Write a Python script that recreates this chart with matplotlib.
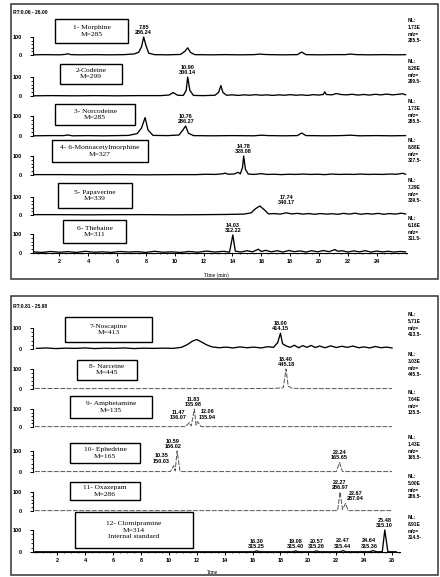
import matplotlib.pyplot as plt
from matplotlib.patches import Rectangle
from matplotlib.ticker import FixedLocator, MultipleLocator

plt.rcParams['font.family'] = ['Liberation Sans', 'DejaVu Sans']

W, H = 440, 577

# ---------------- data ----------------
# top panel: RT 0.06 - 26.00
t1 = [0.2, 1.0, 2.0, 2.4, 2.6, 2.8, 3.5, 4.5, 5.5, 6.5, 7.2, 7.5, 7.7, 7.85, 8.0, 8.2, 8.6, 9.5, 10.4, 10.7,
      10.9, 11.1, 11.4, 12.5, 13.5, 14.5, 15.5, 15.9, 16.2, 16.6, 17.5, 18.5, 18.8, 19.1, 20.0, 21.0, 21.8,
      22.2, 22.6, 23.5, 24.5, 25.5, 26.0]
y1 = [1, 2, 1, 3, 7, 2, 1, 2, 1, 2, 6, 15, 45, 100, 55, 10, 2, 1, 3, 20,
      40, 14, 2, 1, 2, 1, 2, 5, 3, 2, 1, 2, 16, 2, 1, 2, 2,
      5, 2, 1, 2, 1, 2]

t2 = [0.2, 1.5, 3, 4.5, 6, 7.5, 9.0, 9.6, 9.9, 10.2, 10.6, 10.8, 10.9, 11.05, 11.3, 12.0, 12.8, 13.05, 13.2,
      13.35, 13.6, 14.0, 14.4, 14.8, 15.2, 15.6, 16.0, 16.4, 16.8, 17.2, 17.6, 18.0, 18.4, 18.8, 19.2, 19.6,
      20.0, 20.3, 20.4, 20.5, 20.9, 21.2, 21.5, 21.9, 22.3, 22.7, 23.1, 23.5, 23.9, 24.3, 24.7, 25.1, 25.5,
      25.8, 26.0]
y2 = [1, 2, 1, 2, 1, 2, 2, 5, 18, 4, 3, 30, 100, 30, 3, 2, 4, 20, 55,
      18, 4, 6, 3, 6, 4, 7, 4, 6, 3, 6, 4, 7, 4, 6, 3, 7,
      5, 8, 22, 8, 6, 13, 8, 6, 9, 5, 8, 5, 9, 6, 10, 6, 9,
      12, 6]

t3 = [0.2, 1.5, 2.3, 2.6, 2.9, 4, 5, 6, 6.8, 7.4, 7.7, 7.95, 8.15, 8.5, 9.5, 10.3, 10.55, 10.76, 10.95, 11.3,
      12.5, 14, 15.5, 16.0, 16.5, 17.5, 18.5, 18.8, 19.1, 20.5, 21.5, 22.2, 22.8, 24, 25, 26]
y3 = [1, 2, 2, 5, 1, 2, 1, 2, 3, 12, 40, 92, 30, 3, 2, 5, 28, 50, 14, 2,
      1, 2, 1, 4, 2, 1, 2, 15, 2, 1, 2, 4, 1, 2, 1, 2]

t4 = [0.2, 2, 4, 6, 8, 10, 11.5, 12.2, 12.8, 13.3, 13.5, 13.7, 14.1, 14.4, 14.55, 14.7, 14.78, 14.9, 15.1,
      15.5, 16.0, 16.4, 16.9, 17.4, 17.9, 18.4, 18.9, 19.4, 19.9, 20.4, 20.9, 21.4, 21.9, 22.4, 22.9, 23.4,
      23.9, 24.4, 24.9, 25.4, 25.8, 26.0]
y4 = [2, 2, 1, 2, 1, 2, 2, 4, 3, 6, 10, 4, 5, 14, 6, 40, 100, 30, 5,
      3, 7, 3, 4, 2, 4, 3, 5, 3, 4, 2, 5, 3, 4, 3, 5, 3,
      4, 3, 5, 4, 9, 4]

t5 = [0.2, 2, 4, 6, 8, 10, 12, 13.5, 14.2, 14.8, 15.3, 15.6, 15.9, 16.2, 16.5, 16.9, 17.3, 17.74, 18.1, 18.5,
      18.9, 19.3, 19.7, 20.1, 20.5, 20.9, 21.3, 21.7, 22.1, 22.5, 22.9, 23.3, 23.7, 24.1, 24.5, 24.9, 25.3,
      25.7, 26.0]
y5 = [2, 2, 1, 2, 2, 1, 2, 3, 4, 5, 12, 35, 50, 30, 6, 8, 5, 12, 6, 9,
      5, 8, 4, 8, 5, 7, 4, 9, 5, 10, 4, 8, 5, 9, 4, 8, 5,
      10, 6]

t6 = [0.2, 0.8, 1.4, 2.0, 2.6, 3.2, 3.8, 4.4, 5.0, 5.6, 6.2, 6.8, 7.4, 8.0, 8.6, 9.2, 9.8, 10.4, 11.0, 11.6,
      12.2, 12.8, 13.4, 13.8, 14.03, 14.2, 14.6, 15.0, 15.4, 15.8, 16.0, 16.3, 16.7, 17.1, 17.5, 17.9, 18.3,
      18.7, 19.1, 19.5, 19.9, 20.3, 20.7, 21.1, 21.3, 21.6, 22.0, 22.4, 22.8, 23.2, 23.6, 24.0, 24.4, 24.8,
      25.2, 25.6, 26.0]
y6 = [6, 3, 8, 4, 7, 3, 9, 4, 6, 3, 8, 5, 7, 3, 9, 4, 6, 3, 8, 4,
      10, 5, 9, 4, 95, 10, 5, 12, 6, 20, 8, 14, 6, 12, 5, 13, 7,
      11, 5, 12, 6, 13, 7, 18, 9, 12, 5, 11, 6, 12, 5, 10, 6, 9,
      5, 8, 6]

# bottom panel: RT 0.81 - 25.98
t7 = [0.5, 1.2, 1.9, 2.6, 3.3, 4.0, 4.7, 5.4, 6.1, 6.8, 7.5, 8.2, 8.9, 9.6, 10.3, 10.9, 11.3, 11.7, 12.0, 12.3,
      12.7, 13.1, 13.6, 14.1, 14.6, 15.1, 15.6, 16.1, 16.6, 17.1, 17.5, 17.8, 18.0, 18.15, 18.4, 18.7, 19.0,
      19.3, 19.6, 19.9, 20.2, 20.5, 20.8, 21.2, 21.6, 22.0, 22.4, 22.8, 23.2, 23.6, 24.0, 24.4, 24.8, 25.2,
      25.6, 26.0]
y7 = [3, 5, 2, 4, 3, 5, 2, 4, 3, 5, 2, 4, 3, 4, 3, 8, 20, 38, 45, 35,
      20, 10, 6, 9, 5, 10, 6, 9, 5, 11, 8, 30, 75, 25, 15, 8, 18,
      6, 16, 8, 17, 7, 14, 6, 15, 7, 13, 8, 14, 6, 10, 5, 12, 6,
      9, 5]

t8 = [0.4, 3, 6, 9, 12, 15, 17.5, 18.2, 18.4, 18.55, 18.8, 19.5, 22, 24, 26]
y8 = [3, 2, 2, 2, 2, 2, 3, 6, 100, 15, 4, 2, 2, 2, 2]

t9 = [0.4, 4, 8, 11.2, 11.47, 11.6, 11.83, 11.95, 12.06, 12.3, 16, 20, 24, 26]
y9 = [2, 2, 2, 2, 25, 5, 100, 10, 30, 2, 2, 2, 2, 2]

t10 = [0.4, 4, 8, 10.1, 10.35, 10.45, 10.59, 10.8, 14, 18, 22.0, 22.24, 22.45, 24, 26]
y10 = [2, 2, 2, 2, 30, 5, 100, 2, 2, 2, 2, 45, 2, 2, 2]

t11 = [0.4, 4, 8, 12, 16, 20, 22.1, 22.27, 22.45, 22.67, 22.85, 24, 26]
y11 = [2, 2, 2, 2, 2, 2, 2, 100, 8, 40, 2, 2, 2]

t12 = [0.4, 4, 8, 12, 16.1, 16.3, 16.5, 18.9, 19.08, 19.3, 20.4, 20.57, 20.8, 22.3, 22.47, 22.7, 24.4, 24.64,
       24.9, 25.3, 25.48, 25.7, 26.3]
y12 = [1, 1, 1, 1, 1, 5, 1, 1, 5, 1, 1, 5, 1, 1, 6, 1, 1, 6,
       1, 1, 100, 1, 1]

times = [t1, t2, t3, t4, t5, t6, t7, t8, t9, t10, t11, t12]
intens = [y1, y2, y3, y4, y5, y6, y7, y8, y9, y10, y11, y12]

names = ["1- Morphine", "2-Codeine", "3- Norcodeine", "4- 6-Monoacetylmorphine", "5- Papaverine",
         "6- Thebaine", "7-Noscapine", "8- Narceine", "9- Amphetamine", "10- Ephedrine", "11- Oxazepam",
         "12- Clomipramine"]
masses = [285, 299, 285, 327, 339, 311, 413, 445, 135, 165, 286, 314]
nl_vals = ["1.73E", "8.26E", "1.73E", "8.88E", "7.29E", "6.16E",
           "5.71E", "3.03E", "7.64E", "1.43E", "5.00E", "8.91E"]
mz_win = ["285.5-", "299.5-", "285.5-", "327.5-", "339.5-", "311.5-",
          "413.5-", "445.5-", "135.5-", "165.5-", "286.5-", "314.5-"]

# peak labels: (rt, m/z, apex height)
peaks = [
    [("7.85", "286.24", 100)],
    [("10.90", "300.14", 100)],
    [("10.76", "286.27", 50)],
    [("14.78", "328.08", 100)],
    [("17.74", "340.17", 45)],
    [("14.03", "312.22", 95)],
    [("18.00", "414.15", 75)],
    [("18.40", "445.18", 100)],
    [("11.83", "135.98", 100), ("11.47", "136.07", 25), ("12.06", "135.94", 30)],
    [("10.59", "166.02", 100), ("10.35", "150.03", 30), ("22.24", "165.65", 45)],
    [("22.27", "286.97", 100), ("22.67", "287.04", 40)],
    [("16.30", "315.25", 5), ("19.08", "315.40", 5), ("20.57", "315.26", 5),
     ("22.47", "315.44", 6), ("24.64", "315.36", 6), ("25.48", "315.10", 100)],
]

# ---------------- layout (pixels of the 440x577 picture) ----------------
baselines = [55, 96, 136, 175, 215, 253, 349, 389, 427, 472, 511, 552]
levels100 = [37, 77, 116, 156, 197, 234, 328, 369, 409, 451, 492, 530]
boxes = [(55, 19, 128, 43), (60, 64, 122, 84), (55, 104, 135, 125), (52, 140, 148, 162),
         (58, 183, 132, 208), (63, 220, 126, 243), (65, 317, 152, 342), (77, 360, 137, 380),
         (70, 396, 152, 418), (70, 443, 140, 463), (70, 482, 140, 500), (75, 512, 193, 548)]
label_dx = [[0], [0], [0], [0], [0], [0], [0], [0],
            [-1, -8, 7], [-3, -9, 0], [0, 7], [0, 0, 0, 0, -3, 0]]
faint_rows = {7, 8, 9, 10}


def fx(x):
    return x / W


def fy(y):
    return 1 - y / H


fig = plt.figure(figsize=(W / 100, H / 100), dpi=100)

# panel frames
for (x0, y0, x1, y1) in [(11, 4, 438, 279), (11, 296, 438, 575)]:
    fig.patches.append(Rectangle((fx(x0), fy(y1)), (x1 - x0) / W, (y1 - y0) / H,
                                 transform=fig.transFigure, fill=False, lw=1.1, ec='#333333'))

fig.text(fx(13), fy(12), "RT:0.06 - 26.00", fontsize=3.6, fontweight='bold', va='center')
fig.text(fx(13), fy(306), "RT:0.81 - 25.98", fontsize=3.6, fontweight='bold', va='center')

for i in range(12):
    top_panel = i < 6
    left, right = 33, (407 if top_panel else 400)
    xlim = (0.18, 26.1) if top_panel else (0.26, 26.57)
    b, t = baselines[i], levels100[i]
    s = (b - t) / 100
    ax = fig.add_axes([fx(left), fy(b + 25 * s), (right - left) / W, 200 * s / H])
    ax.patch.set_alpha(0)

    if i in faint_rows:
        ax.plot(times[i], intens[i], color='#555555', lw=0.7, ls=(0, (5, 1.5)))
    else:
        ax.plot(times[i], intens[i], color='black', lw=0.95)

    ax.set_xlim(*xlim)
    ax.set_ylim(-25, 175)
    for sp in ['top', 'right', 'bottom']:
        ax.spines[sp].set_visible(False)
    ax.spines['left'].set_bounds(0, 100)
    ax.spines['left'].set_linewidth(0.8)
    ax.set_yticks([0, 100])
    ax.set_yticklabels(["0", "100"], fontweight='bold')
    ax.yaxis.set_minor_locator(FixedLocator([20, 40, 60, 80]))
    ax.tick_params(axis='y', which='major', length=2, width=0.7, pad=6, labelsize=4)
    ax.tick_params(axis='y', which='minor', length=1.2, width=0.6)

    if i in (5, 11):
        ax.spines['bottom'].set_visible(True)
        ax.spines['bottom'].set_position(('data', 0))
        ax.spines['bottom'].set_linewidth(0.8)
        ax.set_xticks(list(range(2, 25, 2)) if top_panel else list(range(2, 27, 2)))
        ax.xaxis.set_minor_locator(MultipleLocator(0.5))
        ax.tick_params(axis='x', which='major', length=2, width=0.7, pad=2, labelsize=4)
        ax.tick_params(axis='x', which='minor', length=1, width=0.5)
        for lab in ax.get_xticklabels():
            lab.set_fontweight('bold')
    else:
        ax.tick_params(axis='x', which='both', bottom=False, labelbottom=False)

    for k, (rt, mz, h) in enumerate(peaks[i]):
        ax.annotate(f"{rt}\n{mz}", xy=(float(rt), h), xytext=(label_dx[i][k], 1.5),
                    textcoords='offset points', ha='center', va='bottom', fontsize=4,
                    fontweight='bold', linespacing=1.05, annotation_clip=False)

    # compound box
    x0, y0, x1, y1 = boxes[i]
    fig.patches.append(Rectangle((fx(x0), fy(y1)), (x1 - x0) / W, (y1 - y0) / H,
                                 transform=fig.transFigure, fill=False, lw=1.0, ec='black'))
    txt = f"{names[i]}\nM={masses[i]}"
    if i == 11:
        txt += "\nInternal standard"
    fig.text(fx((x0 + x1) / 2), fy((y0 + y1) / 2), txt, ha='center', va='center',
             fontsize=5.4, family='Liberation Serif', linespacing=1.25)

    # normalisation level / mass window
    fig.text(fx(408), fy(b - 37), f"NL:\n{nl_vals[i]}\nm/z=\n{mz_win[i]}", ha='left', va='top',
             fontsize=3.5, fontweight='bold', linespacing=1.45)

fig.text(fx(216), fy(275), "Time (min)", ha='center', va='center', fontsize=4,
         family='Liberation Serif')
fig.text(fx(213), fy(572), "Time", ha='center', va='center', fontsize=4,
         family='Liberation Serif')

fig.savefig("out.png", dpi=100)
